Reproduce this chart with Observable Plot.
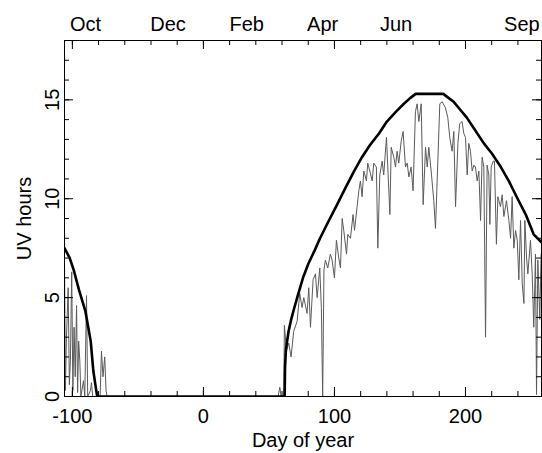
<!DOCTYPE html>
<html><head><meta charset="utf-8">
<script src="https://cdn.jsdelivr.net/npm/d3@7"></script>
<script src="https://cdn.jsdelivr.net/npm/@observablehq/plot@0.6"></script>
<style>body{margin:0;background:#fff}</style>
</head><body><div id="chart"></div>
<script>
// Clear-sky (maximum) UV hours – thick curve
const clearDays = [-106, -102, -99, -95, -90, -86, -84, -82, -81, 62, 62.3, 63, 65, 67, 69, 72, 76, 80, 85, 89, 95, 102, 108, 115, 121, 127, 134, 140, 147, 153, 158, 162, 183, 187, 191, 196, 201, 207, 214, 220, 227, 233, 239, 246, 252, 258];
const clearUV   = [7.5, 7.0, 6.4, 5.4, 4.3, 2.8, 1.3, 0.4, 0, 0, 1.5, 2.4, 3.3, 3.9, 4.4, 5.1, 6.0, 6.7, 7.4, 8.0, 8.8, 9.7, 10.5, 11.4, 12.1, 12.7, 13.3, 13.9, 14.4, 14.8, 15.1, 15.3, 15.3, 15.1, 14.9, 14.5, 14.1, 13.5, 12.8, 12.3, 11.6, 10.9, 10.1, 9.2, 8.2, 7.8];

// Observed daily UV hours – thin curve
const obsDays = [-106, -105.3, -104.5, -103.2, -102.3, -101.5, -100.5, -99.6, -98.7, -97.8, -96.8, -96, -95.2, -94.3, -93.5, -91.5, -90.5, -89.2, -88.3, -86.2, -85.4, -84.5, -78.8, -77.8, -76.6, -75.3, -74.3, -73.5,
  57, 58.3, 59.3, 61.3, 61.8, 63.4, 65.1, 66.9, 68.9, 71.5, 73.5, 75.3, 76.6, 79.1, 80.4, 81.7, 83.7, 85.5, 86.8, 88.8, 90, 91, 92, 93.1, 94.9, 96.9, 98.2, 100, 101.5, 103.3, 104.6, 105.9, 107.1, 109.2, 110.2, 112.2, 114.2, 115.3, 117.3, 118.6, 119.8, 121.1, 122.4, 124.4, 125.4, 127, 128.8, 130, 132, 133.1, 134.6, 136.4, 137.6, 139.7, 140.7, 142.3, 143.3, 145.3, 146.6, 147.8, 149.1, 150.9, 152.4, 154.2, 155.5, 156.8, 158.5, 160, 161.8, 163.1, 164.4, 166.2, 167.7, 169.5, 170.8, 172, 173.8, 175.8, 177.1, 178.9, 180.4, 182.2, 184.7, 186.5, 188, 189.8, 191.1, 192.4, 194.2, 195.6, 197.4, 198.7, 200, 201.3, 202.5, 203.8, 205.1, 206.4, 207.6, 208.9, 210.2, 211.5, 212.7, 214, 215.3, 216.5, 217.8, 218.6, 219.6, 221.1, 222.1, 223.6, 224.7, 226.7, 228, 229.3, 231.3, 233.1, 234.4, 235.6, 236.9, 238.2, 239.5, 240.7, 242, 243.3, 244.6, 245.3, 246.6, 247.6, 249.6, 250.9, 252.1, 253.4, 254.2, 255.2, 256.7, 257.7];
const obsUV = [7.0, 0.3, 3.0, 5.5, 0.6, 1.8, 6.3, 0.3, 3.5, 1.0, 4.6, 0.2, 2.8, 1.8, 0, 0.8, 0, 5.1, 0, 0.3, 0.7, 0, 0, 2.3, 1.0, 2.0, 0.3, 0,
  0, 0.47, 0, 0, 3.6, 2.3, 2.7, 2.0, 3.3, 3.8, 5.2, 4.5, 5.0, 4.2, 5.5, 3.5, 5.9, 6.2, 5.0, 6.5, 4.5, 0, 6.4, 6.9, 6.5, 7.2, 6.9, 6.0, 7.9, 7.0, 6.5, 9.0, 8.4, 7.2, 8.2, 8.0, 9.2, 8.4, 9.6, 10.4, 10.9, 10.1, 11.4, 10.9, 11.8, 11.4, 10.9, 11.8, 11.6, 7.5, 11.2, 11.9, 11.2, 13.1, 11.6, 9.2, 12.6, 12.1, 11.6, 12.4, 11.8, 12.9, 13.4, 11.6, 11.8, 11.1, 11.6, 10.4, 14.4, 14.8, 13.9, 14.8, 9.7, 12.6, 11.6, 12.6, 11.4, 9.9, 8.5, 11.9, 14.8, 14.9, 14.6, 14.1, 13.1, 12.4, 13.4, 9.6, 12.8, 13.8, 13.9, 13.3, 13.1, 11.2, 12.8, 12.4, 11.4, 11.7, 11.6, 10.9, 11.4, 8.9, 12.1, 11.6, 3.0, 11.7, 11.2, 8.7, 11.6, 11.9, 11.9, 7.7, 10.1, 9.6, 10.2, 9.1, 9.9, 8.9, 8.0, 10.1, 7.5, 8.4, 7.9, 5.9, 8.9, 5.7, 4.7, 8.9, 7.0, 6.2, 7.9, 6.2, 3.5, 7.2, 0.1, 6.9, 3.9, 7.2];

const xMajorTicks = [-100, 0, 100, 200];
const xMinorTicks = [-100, -80, -60, -40, -20, 0, 20, 40, 60, 80, 100, 120, 140, 160, 180, 200, 220, 240];
const yMajorTicks = [0, 5, 10, 15];
const yMinorTicks = [0, 1, 2, 3, 4, 5, 6, 7, 8, 9, 10, 11, 12, 13, 14, 15, 16, 17, 18];
const monthLabels = ["Oct", "Dec", "Feb", "Apr", "Jun", "Sep"];
const monthDays = [-90, -27, 33, 91, 147, 243];

const clear = clearDays.map((d, i) => ({day: d, uv: clearUV[i]}));
const obs = obsDays.map((d, i) => ({day: d, uv: obsUV[i]}));

const W = 542, H = 453, mL = 64, mR = 1, mT = 40, mB = 57;
const innerW = W - mL - mR, innerH = H - mT - mB;
const minorLen = 5, majorLen = 9;

const chart = Plot.plot({
  width: W, height: H,
  marginLeft: mL, marginRight: mR, marginTop: mT, marginBottom: mB,
  x: {domain: [-106, 258], axis: null},
  y: {domain: [0, 18], axis: null},
  style: {background: "#fff", fontFamily: "'Liberation Sans', Arial, Helvetica, sans-serif", fontSize: "20px", color: "#000"},
  marks: [
    Plot.line(obs, {x: "day", y: "uv", stroke: "#5a5a5a", strokeWidth: 1, clip: true}),
    Plot.line(clear, {x: "day", y: "uv", stroke: "#000", strokeWidth: 2.6, clip: true}),
    // inward ticks bottom & top
    Plot.tickX(xMinorTicks, {x: d => d, insetTop: innerH - minorLen, stroke: "#000"}),
    Plot.tickX(xMajorTicks, {x: d => d, insetTop: innerH - majorLen, stroke: "#000"}),
    Plot.tickX(xMinorTicks, {x: d => d, insetBottom: innerH - minorLen, stroke: "#000"}),
    Plot.tickX(xMajorTicks, {x: d => d, insetBottom: innerH - majorLen, stroke: "#000"}),
    // inward ticks left & right
    Plot.tickY(yMinorTicks, {y: d => d, insetRight: innerW - minorLen, stroke: "#000"}),
    Plot.tickY(yMajorTicks, {y: d => d, insetRight: innerW - majorLen, stroke: "#000"}),
    Plot.tickY(yMinorTicks, {y: d => d, insetLeft: innerW - minorLen, stroke: "#000"}),
    Plot.tickY(yMajorTicks, {y: d => d, insetLeft: innerW - majorLen, stroke: "#000"}),
    Plot.frame({stroke: "#000", strokeWidth: 1}),
    // labels
    Plot.text(xMajorTicks, {x: d => d, frameAnchor: "bottom", lineAnchor: "top", dy: 12, text: d => String(d), fill: "#000"}),
    Plot.text(["Day of year"], {frameAnchor: "bottom", lineAnchor: "top", dy: 36, text: d => d, fill: "#000"}),
    Plot.text(yMajorTicks, {y: d => d, frameAnchor: "left", rotate: -90, textAnchor: "middle", lineAnchor: "middle", dx: -12, text: d => String(d), fill: "#000"}),
    Plot.text(["UV hours"], {frameAnchor: "left", rotate: -90, textAnchor: "middle", lineAnchor: "middle", dx: -40, text: d => d, fill: "#000"}),
    Plot.text(monthLabels, {x: (d, i) => monthDays[i], frameAnchor: "top", lineAnchor: "bottom", dy: -10, text: d => d, fill: "#000"})
  ]
});
document.getElementById("chart").appendChild(chart);
</script>
</body></html>
